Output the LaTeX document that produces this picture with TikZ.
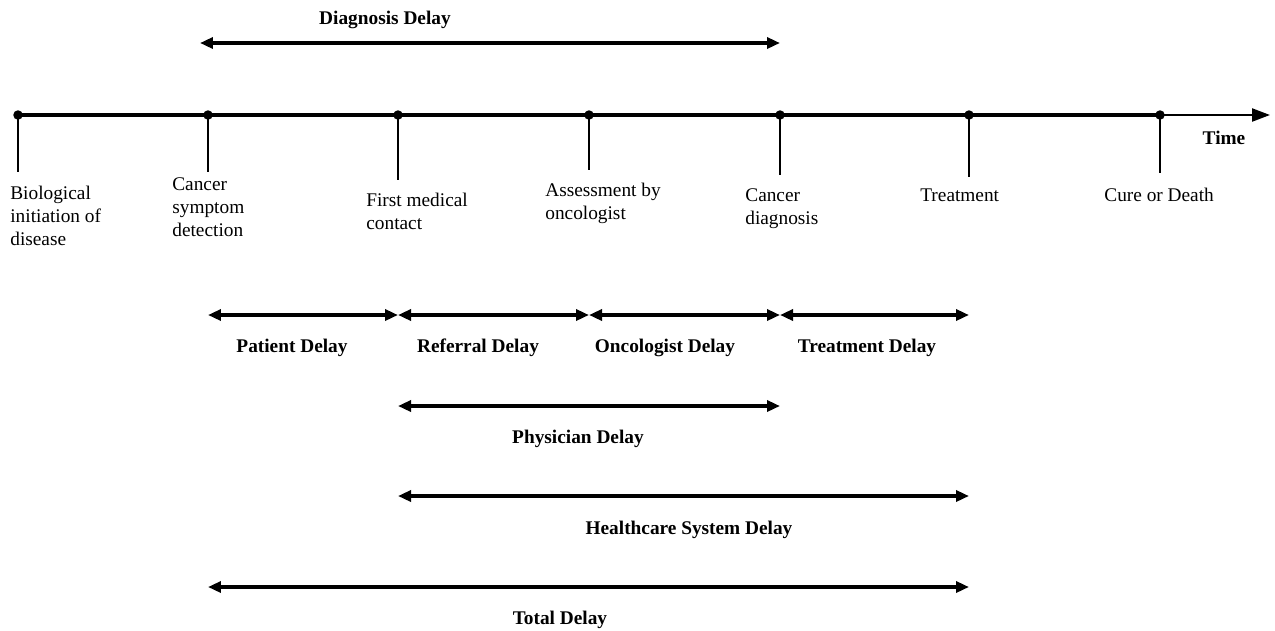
\documentclass[tikz,border=0pt]{standalone}
\usepackage{fontspec}
\setmainfont{Liberation Serif}
\usetikzlibrary{arrows.meta,positioning,calc}

\tikzset{
    dot/.style = {circle, fill=black, inner sep=0pt, minimum size=0.19cm},
    delay/.style = {line width=2.2pt, {Triangle[length=0.26cm,width=0.22cm]}-{Triangle[length=0.26cm,width=0.22cm]}},
    tick/.style = {line width=1pt},
    evlabel/.style = {anchor=base west, align=left, inner sep=0pt},
    dlabel/.style = {anchor=base, inner sep=0pt, font=\fontsize{11}{13}\selectfont\bfseries}
}

\begin{document}
\begin{tikzpicture}[x=0.02cm, y=-0.02cm, font=\fontsize{11}{13}\selectfont]
        \useasboundingbox (0,0) rectangle (1275,630);

        % events on the time line
        \node[dot] (bio) at (18,115) {};
        \node[dot] (sym) at (208,115) {};
        \node[dot] (fmc) at (398,115) {};
        \node[dot] (onc) at (589,115) {};
        \node[dot] (diag) at (780,115) {};
        \node[dot] (treat) at (969,115) {};
        \node[dot] (cure) at (1160,115) {};
        \coordinate (tend) at (1270,115);

        \draw[line width=2.8pt] (bio.center) -- (cure.center);
        \draw[line width=1.3pt, -{Triangle[length=0.36cm,width=0.26cm]}] (cure.center) -- (tend);

        \foreach \n/\l in {bio/57, sym/57, fmc/65, onc/55, diag/60, treat/62, cure/58}
            \draw[tick] (\n.center) -- ++(0,\l);

        % base anchor sits on the last line
        \node[evlabel] (biotxt) at (10,245) {Biological\\initiation of\\disease};
        \node[evlabel] (symtxt) at (172,236) {Cancer\\symptom\\detection};
        \node[evlabel] (fmctxt) at (366,229) {First medical\\contact};
        \node[evlabel] (onctxt) at (545,219) {Assessment by\\oncologist};
        \node[evlabel] (diagtxt) at (745,224) {Cancer\\diagnosis};
        \node[evlabel] (treattxt) at (920,201) {Treatment};
        \node[evlabel] (curetxt) at (1104,201) {Cure or Death};
        \node[dlabel] (time) at (1224,144) {Time};

        % delay rows
        \coordinate (r0) at (0,43);
        \coordinate (r1) at (0,315);
        \coordinate (r2) at (0,406);
        \coordinate (r3) at (0,496);
        \coordinate (r4) at (0,587);

        \draw[delay] ($(sym |- r0)+(-8,0)$) -- (diag |- r0);
        \node[dlabel] (diagdelay) at (385,24) {Diagnosis Delay};

        \draw[delay] (sym |- r1) -- (fmc |- r1);
        \draw[delay] (fmc |- r1) -- (onc |- r1);
        \draw[delay] (onc |- r1) -- (diag |- r1);
        \draw[delay] (diag |- r1) -- (treat |- r1);
        \node[dlabel] (patdelay) at (292,352) {Patient Delay};
        \node[dlabel] (refdelay) at (478,352) {Referral Delay};
        \node[dlabel] (oncdelay) at (665,352) {Oncologist Delay};
        \node[dlabel] (treatdelay) at (867,352) {Treatment Delay};

        \draw[delay] (fmc |- r2) -- (diag |- r2);
        \node[dlabel] (phydelay) at (578,443) {Physician Delay};

        \draw[delay] (fmc |- r3) -- (treat |- r3);
        \node[dlabel] (hsdelay) at (689,534) {Healthcare System Delay};

        \draw[delay] (sym |- r4) -- (treat |- r4);
        \node[dlabel] (totdelay) at (560,624) {Total Delay};
\end{tikzpicture}
\end{document}
